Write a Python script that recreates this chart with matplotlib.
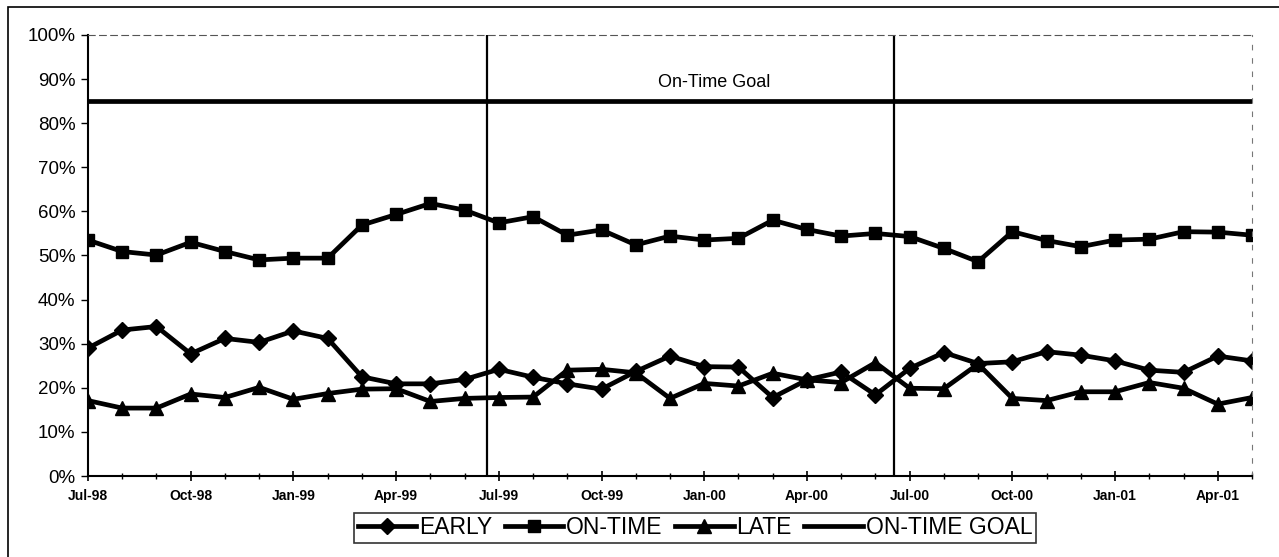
import numpy as np
import matplotlib.pyplot as plt
from matplotlib.patches import Rectangle
from matplotlib.ticker import FixedLocator, PercentFormatter

plt.rcParams['font.family'] = ['Liberation Sans', 'DejaVu Sans']

# Monthly delivery performance, Jul-98 .. May-01
months = ['Jul-98', 'Aug-98', 'Sep-98', 'Oct-98', 'Nov-98', 'Dec-98',
          'Jan-99', 'Feb-99', 'Mar-99', 'Apr-99', 'May-99', 'Jun-99',
          'Jul-99', 'Aug-99', 'Sep-99', 'Oct-99', 'Nov-99', 'Dec-99',
          'Jan-00', 'Feb-00', 'Mar-00', 'Apr-00', 'May-00', 'Jun-00',
          'Jul-00', 'Aug-00', 'Sep-00', 'Oct-00', 'Nov-00', 'Dec-00',
          'Jan-01', 'Feb-01', 'Mar-01', 'Apr-01', 'May-01']

early = [29.0, 33.1, 33.9, 27.7, 31.2, 30.3, 32.9, 31.2, 22.5, 20.9, 20.9, 21.9,
         24.2, 22.4, 20.9, 19.7, 23.7, 27.2, 24.8, 24.7, 17.8, 21.8, 23.6, 18.4,
         24.4, 28.0, 25.5, 25.9, 28.2, 27.4, 26.1, 24.0, 23.5, 27.2, 26.1]

on_time = [53.5, 50.9, 50.1, 53.0, 50.9, 49.0, 49.4, 49.4, 56.9, 59.3, 61.8, 60.3,
           57.4, 58.8, 54.6, 55.8, 52.4, 54.4, 53.5, 53.9, 58.0, 55.9, 54.4, 55.0,
           54.3, 51.6, 48.6, 55.4, 53.4, 52.0, 53.5, 53.7, 55.4, 55.3, 54.6]

late = [17.1, 15.4, 15.4, 18.6, 17.8, 20.1, 17.4, 18.7, 19.7, 19.8, 16.9, 17.6,
        17.8, 17.9, 24.0, 24.2, 23.4, 17.6, 21.0, 20.4, 23.3, 21.8, 21.2, 25.7,
        19.9, 19.8, 25.4, 17.6, 17.1, 19.1, 19.1, 21.2, 19.9, 16.3, 17.8]

goal = 85.0

# fiscal year boundaries (fractional month index)
fy_breaks = [11.65, 23.55]

x = np.arange(len(months))

fig = plt.figure(figsize=(12.79, 5.57), dpi=100)
ax = fig.add_axes([0.0688, 0.1454, 0.9101, 0.7918])

line_kw = dict(color='black', linewidth=3.4)
ax.plot(x, early, marker='D', markersize=8, label='EARLY', **line_kw)
ax.plot(x, on_time, marker='s', markersize=8.5, label='ON-TIME', **line_kw)
ax.plot(x, late, marker='^', markersize=9.5, label='LATE', **line_kw)
ax.plot([x[0], x[-1]], [goal, goal], label='ON-TIME GOAL', **line_kw)

for b in fy_breaks:
    ax.axvline(b, color='black', linewidth=1.6)

ax.text(18.3, 89.3, 'On-Time Goal', ha='center', va='center', fontsize=13)

ax.set_xlim(0, len(months) - 1)
ax.set_ylim(0, 100)

ax.xaxis.set_major_locator(FixedLocator(x[::3]))
ax.set_xticklabels(months[::3], fontsize=10, fontweight='bold')
ax.xaxis.set_minor_locator(FixedLocator(x))
ax.tick_params(axis='x', which='major', direction='inout', length=7, width=1.2, pad=6)
ax.tick_params(axis='x', which='minor', direction='inout', length=5, width=1)

ax.set_yticks(np.arange(0, 101, 10))
ax.yaxis.set_major_formatter(PercentFormatter(decimals=0))
ax.tick_params(axis='y', direction='out', length=5, width=1, labelsize=13.5, pad=4)

for side in ['left', 'bottom']:
    ax.spines[side].set_linewidth(1.5)
ax.spines['top'].set_linestyle((0, (6, 4)))
ax.spines['top'].set_linewidth(0.8)
ax.spines['top'].set_color('#555555')
ax.spines['right'].set_linestyle((0, (4, 8)))
ax.spines['right'].set_linewidth(0.8)
ax.spines['right'].set_color('#777777')

leg = fig.legend(loc='center', bbox_to_anchor=(695 / 1279, 1 - 528 / 557), ncol=4,
                 fontsize=16.5, frameon=True, fancybox=False, handlelength=2.55,
                 handletextpad=0.12, columnspacing=0.55, borderpad=0.15,
                 borderaxespad=0)
leg.get_frame().set_edgecolor('black')
leg.get_frame().set_linewidth(1.2)

# outer chart frame
fig.patches.append(Rectangle((8 / 1279, -0.05), 1.1, 1.05 - 7 / 557,
                             transform=fig.transFigure, fill=False,
                             edgecolor='black', linewidth=1.2))

fig.savefig('out.png', dpi=100)
